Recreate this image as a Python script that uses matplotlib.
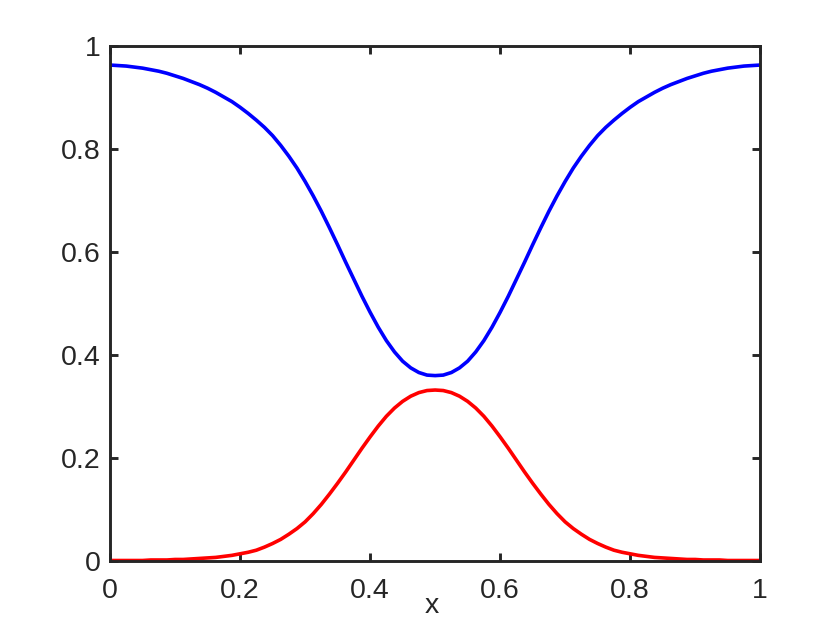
import numpy as np
import matplotlib
matplotlib.use('Agg')
import matplotlib.pyplot as plt

# values, x step 0.0125
x = np.linspace(0, 1, 81)
blue = [0.963, 0.962, 0.961, 0.959, 0.957, 0.954, 0.951, 0.947, 0.942, 0.937,
        0.931, 0.925, 0.918, 0.910, 0.901, 0.892, 0.881, 0.869, 0.856, 0.842,
        0.826, 0.807, 0.786, 0.763, 0.737, 0.709, 0.679, 0.647, 0.614, 0.580,
        0.547, 0.514, 0.483, 0.454, 0.428, 0.406, 0.388, 0.375, 0.366, 0.361,
        0.360,
        0.361, 0.366, 0.375, 0.388, 0.406, 0.428, 0.454, 0.483, 0.514, 0.547,
        0.580, 0.614, 0.647, 0.679, 0.709, 0.737, 0.763, 0.786, 0.807, 0.826,
        0.842, 0.856, 0.869, 0.881, 0.892, 0.901, 0.910, 0.918, 0.925, 0.931,
        0.937, 0.942, 0.947, 0.951, 0.954, 0.957, 0.959, 0.961, 0.962, 0.963]
red = [0.001, 0.001, 0.001, 0.001, 0.001, 0.002, 0.002, 0.002, 0.003, 0.003,
       0.004, 0.005, 0.006, 0.007, 0.009, 0.011, 0.014, 0.017, 0.021, 0.027,
       0.034, 0.042, 0.052, 0.063, 0.076, 0.092, 0.110, 0.130, 0.151, 0.173,
       0.196, 0.219, 0.241, 0.262, 0.281, 0.297, 0.310, 0.320, 0.327, 0.331,
       0.332,
       0.331, 0.327, 0.320, 0.310, 0.297, 0.281, 0.262, 0.241, 0.219, 0.196,
       0.173, 0.151, 0.130, 0.110, 0.092, 0.076, 0.063, 0.052, 0.042, 0.034,
       0.027, 0.021, 0.017, 0.014, 0.011, 0.009, 0.007, 0.006, 0.005, 0.004,
       0.003, 0.003, 0.002, 0.002, 0.002, 0.001, 0.001, 0.001, 0.001, 0.001]

xticks = [0, 0.2, 0.4, 0.6, 0.8, 1]
xticklabels = ['0', '0.2', '0.4', '0.6', '0.8', '1']
yticks = [0, 0.2, 0.4, 0.6, 0.8, 1]
yticklabels = ['0', '0.2', '0.4', '0.6', '0.8', '1']

plt.rcParams['font.family'] = ['Liberation Sans', 'DejaVu Sans']
dark = '#262626'

fig = plt.figure(figsize=(8.4, 6.3), dpi=100)
ax = fig.add_axes([0.131, 0.1095, 0.774, 0.8175])

ax.plot(x, blue, color='#0000ff', lw=2.6)
ax.plot(x, red, color='#ff0000', lw=2.6)

ax.set_xlim(0, 1)
ax.set_ylim(0, 1)
ax.set_xticks(xticks)
ax.set_xticklabels(xticklabels)
ax.set_yticks(yticks)
ax.set_yticklabels(yticklabels)

for s in ax.spines.values():
    s.set_linewidth(2.1)
    s.set_color(dark)
ax.tick_params(direction='in', length=5.5, width=2.1, color=dark,
               labelsize=20.5, labelcolor=dark, top=True, right=True)
ax.tick_params(axis='x', pad=12)
ax.tick_params(axis='y', pad=7)

ax.set_xlabel('x', fontsize=20.5, color=dark)
ax.xaxis.set_label_coords(0.495, -0.062)

fig.savefig('out.png', dpi=100)
